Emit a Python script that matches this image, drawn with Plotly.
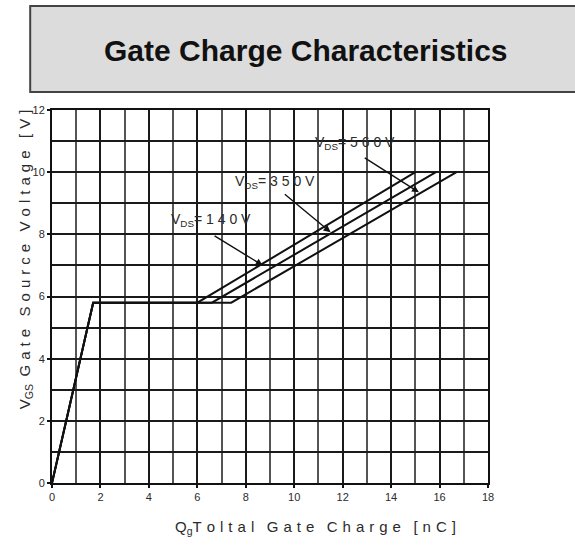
import plotly.graph_objects as go

# ---- data ----
q_140 = [0, 1.7, 6.0, 15.0]
v_140 = [0, 5.8, 5.8, 10.0]
q_350 = [0, 1.7, 6.6, 15.85]
v_350 = [0, 5.8, 5.8, 10.0]
q_560 = [0, 1.7, 7.4, 16.7]
v_560 = [0, 5.8, 5.8, 10.0]

x_ticks = [0, 2, 4, 6, 8, 10, 12, 14, 16, 18]
y_ticks = [0, 2, 4, 6, 8, 10, 12]

labels = ["V<sub>DS</sub>= 1 4 0 V", "V<sub>DS</sub>= 3 5 0 V", "V<sub>DS</sub>= 5 6 0 V"]

FONT = "Liberation Sans, Arial, sans-serif"
TXT = "#2b2b2b"


def spaced(s, gap="\u2004", wgap="\u2002\u2004"):
    words = s.split(" ")
    return wgap.join(gap.join(list(w)) for w in words)


fig = go.Figure()
for q, v in [(q_140, v_140), (q_350, v_350), (q_560, v_560)]:
    fig.add_trace(go.Scatter(x=q, y=v, mode="lines",
                             line=dict(color="#111111", width=2),
                             showlegend=False, hoverinfo="skip"))

axis_common = dict(
    showgrid=True, gridcolor="#1a1a1a", gridwidth=1.6,
    zeroline=False, showline=True, linecolor="#111111", linewidth=2,
    ticks="outside", ticklen=3, tickcolor="#111111", tickwidth=1.5,
    tickfont=dict(family=FONT, size=11, color=TXT),
)

fig.update_xaxes(range=[0, 18], tickvals=x_ticks, mirror=True,
                 minor=dict(dtick=1, showgrid=True, gridcolor="#555555", gridwidth=1.6,
                            ticks=""),
                 **axis_common)
fig.update_yaxes(range=[0, 12], tickvals=y_ticks, mirror=True,
                 minor=dict(dtick=1, showgrid=True, gridcolor="#1a1a1a", gridwidth=1.6,
                            ticks=""),
                 **axis_common)

# title box
fig.add_shape(type="rect", xref="paper", yref="paper",
              x0=-0.05, x1=1.25, y0=1.048, y1=1.279,
              fillcolor="#dcdcdc", line=dict(color="#444444", width=2), layer="below")

annotations = [
    dict(text="<b>Gate Charge Characteristics</b>", xref="paper", yref="paper",
         x=0.5826, y=1.21, showarrow=False, font=dict(family=FONT, size=30, color="#111111")),
    dict(text="V<sub>GS</sub>" + "\u2002" + spaced("Gate Source Voltage [V]"),
         xref="paper", yref="paper", x=-0.062, y=0.60, xanchor="center", yanchor="middle",
         textangle=-90, showarrow=False,
         font=dict(family=FONT, size=15, color=TXT)),
    dict(text="Q<sub>g</sub>" + spaced("Toltal Gate Charge [nC]"),
         xref="paper", yref="paper", x=0.6055, y=-0.12, xanchor="center", yanchor="middle",
         showarrow=False,
         font=dict(family=FONT, size=15, color=TXT)),
]

# label text positions (data coords) and arrows
label_pos = [(6.55, 8.46), (9.2, 9.68), (12.5, 10.94)]
arrows = [((6.65, 7.98), (8.7, 7.0)), ((9.55, 9.33), (11.5, 8.07)), ((12.85, 10.49), (15.15, 9.35))]
for lab, (lx, ly), ((tx, ty), (hx, hy)) in zip(labels, label_pos, arrows):
    annotations.append(dict(text=lab, x=lx, y=ly, xref="x", yref="y", showarrow=False,
                            font=dict(family=FONT, size=14, color=TXT)))
    annotations.append(dict(text="", x=hx, y=hy, ax=tx, ay=ty, xref="x", yref="y",
                            axref="x", ayref="y", showarrow=True, arrowhead=2,
                            arrowsize=1, arrowwidth=1.4, arrowcolor="#111111"))

fig.update_layout(
    width=575, height=545,
    margin=dict(l=52, r=87, t=110, b=62),
    paper_bgcolor="white", plot_bgcolor="white",
    annotations=annotations,
    showlegend=False,
)

fig.write_html("out.html", config={"displayModeBar": False},
               post_script="document.body.style.margin='0';document.body.style.overflow='hidden';")
